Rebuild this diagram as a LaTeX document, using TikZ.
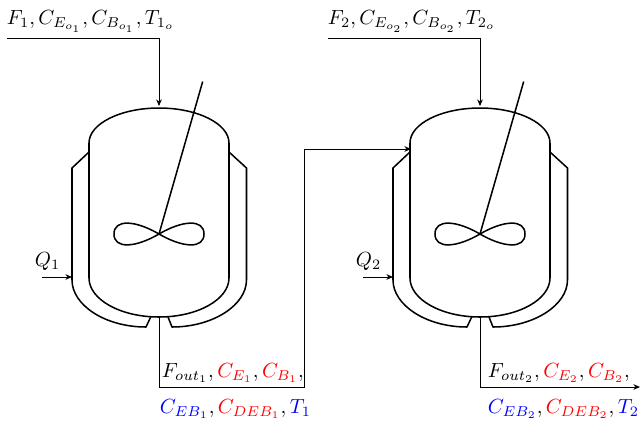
\documentclass[tikz,border=0pt]{standalone}
\usepackage{xcolor}
\usetikzlibrary{arrows.meta}
\tikzset{
  wall/.style={line width=0.8pt, line join=round},
  pipe/.style={line width=0.5pt},
  label/.style={inner sep=0pt, outer sep=0pt, anchor=base west, scale=1.08},
}
\begin{document}
\begin{tikzpicture}[x=0.527pt, y=-0.527pt, >={Stealth[length=3.5pt, width=3pt]}]
  \useasboundingbox (0,0) rectangle (640,427);
  % Two stirred tanks with their jackets
  \foreach \i/\xs in {1/0, 2/321} {
    \begin{scope}[shift={(\xs,0)}]
      % Vessel
      \draw[wall] (89,143) .. controls (89,123.7) and (120.5,108) .. (159,108)
        .. controls (197.5,108) and (229,123.7) .. (229,143) -- (229,278)
        .. controls (229,299.5) and (197.5,317) .. (159,317)
        .. controls (120.5,317) and (89,299.5) .. (89,278) -- cycle;
      % Jacket
      \draw[wall] (89,152) -- (72,168) -- (72,280)
        .. controls (72,305) and (105,327) .. (146,327) -- (150.7,317);
      \draw[wall] (229,152) -- (246.5,168) -- (246.5,280)
        .. controls (246.5,305) and (213,327) .. (172,327) -- (168,317);
      % Stirrer
      \draw[wall] (159,234) -- (202.7,81.5);
      \draw[wall] (159,234) .. controls (135,220) and (114,219) .. (114,234)
        .. controls (114,249) and (135,248) .. (159,234)
        .. controls (183,220) and (204,219) .. (204,234)
        .. controls (204,249) and (183,248) .. (159,234);
      % Connection points
      \coordinate (feed\i) at (7,38);
      \coordinate (top\i) at (159,106);
      \coordinate (bottom\i) at (159,318);
      \coordinate (heat\i) at (42,277);
      \coordinate (jacket\i) at (72,277);
      \coordinate (side\i) at (90,149);
      \coordinate (corner\i) at (159,387);
      \node[label] (Q\i) at (35,266) {$Q_\i$};
    \end{scope}
    \draw[pipe,->] (feed\i) -| (top\i);
    \draw[pipe,->] (heat\i) -- (jacket\i);
  }
  \coordinate (riser) at (304,387);
  \coordinate (exit) at (640,387);
  % Streams
  \draw[pipe,->] (bottom1) -- (corner1) -- (riser) |- (side2);
  \draw[pipe,->] (bottom2) -- (corner2) -- (exit);
  % Labels
  \node[label] (in1) at (7,24) {$F_1,C_{E_{o_1}},C_{B_{o_1}},T_{1_o}$};
  \node[label] (in2) at (328,24) {$F_2,C_{E_{o_2}},C_{B_{o_2}},T_{2_o}$};
  \node[label] (out1) at (162,377) {$F_{out_1},\textcolor{red}{C_{E_1}},\textcolor{red}{C_{B_1}},$};
  \node[label] (out2) at (488,377) {$F_{out_2},\textcolor{red}{C_{E_2}},\textcolor{red}{C_{B_2}},$};
  \node[label] (rest1) at (160,413) {$\textcolor{blue}{C_{EB_1}},\textcolor{red}{C_{DEB_1}},\textcolor{blue}{T_1}$};
  \node[label] (rest2) at (488,413) {$\textcolor{blue}{C_{EB_2}},\textcolor{red}{C_{DEB_2}},\textcolor{blue}{T_2}$};
\end{tikzpicture}
\end{document}
